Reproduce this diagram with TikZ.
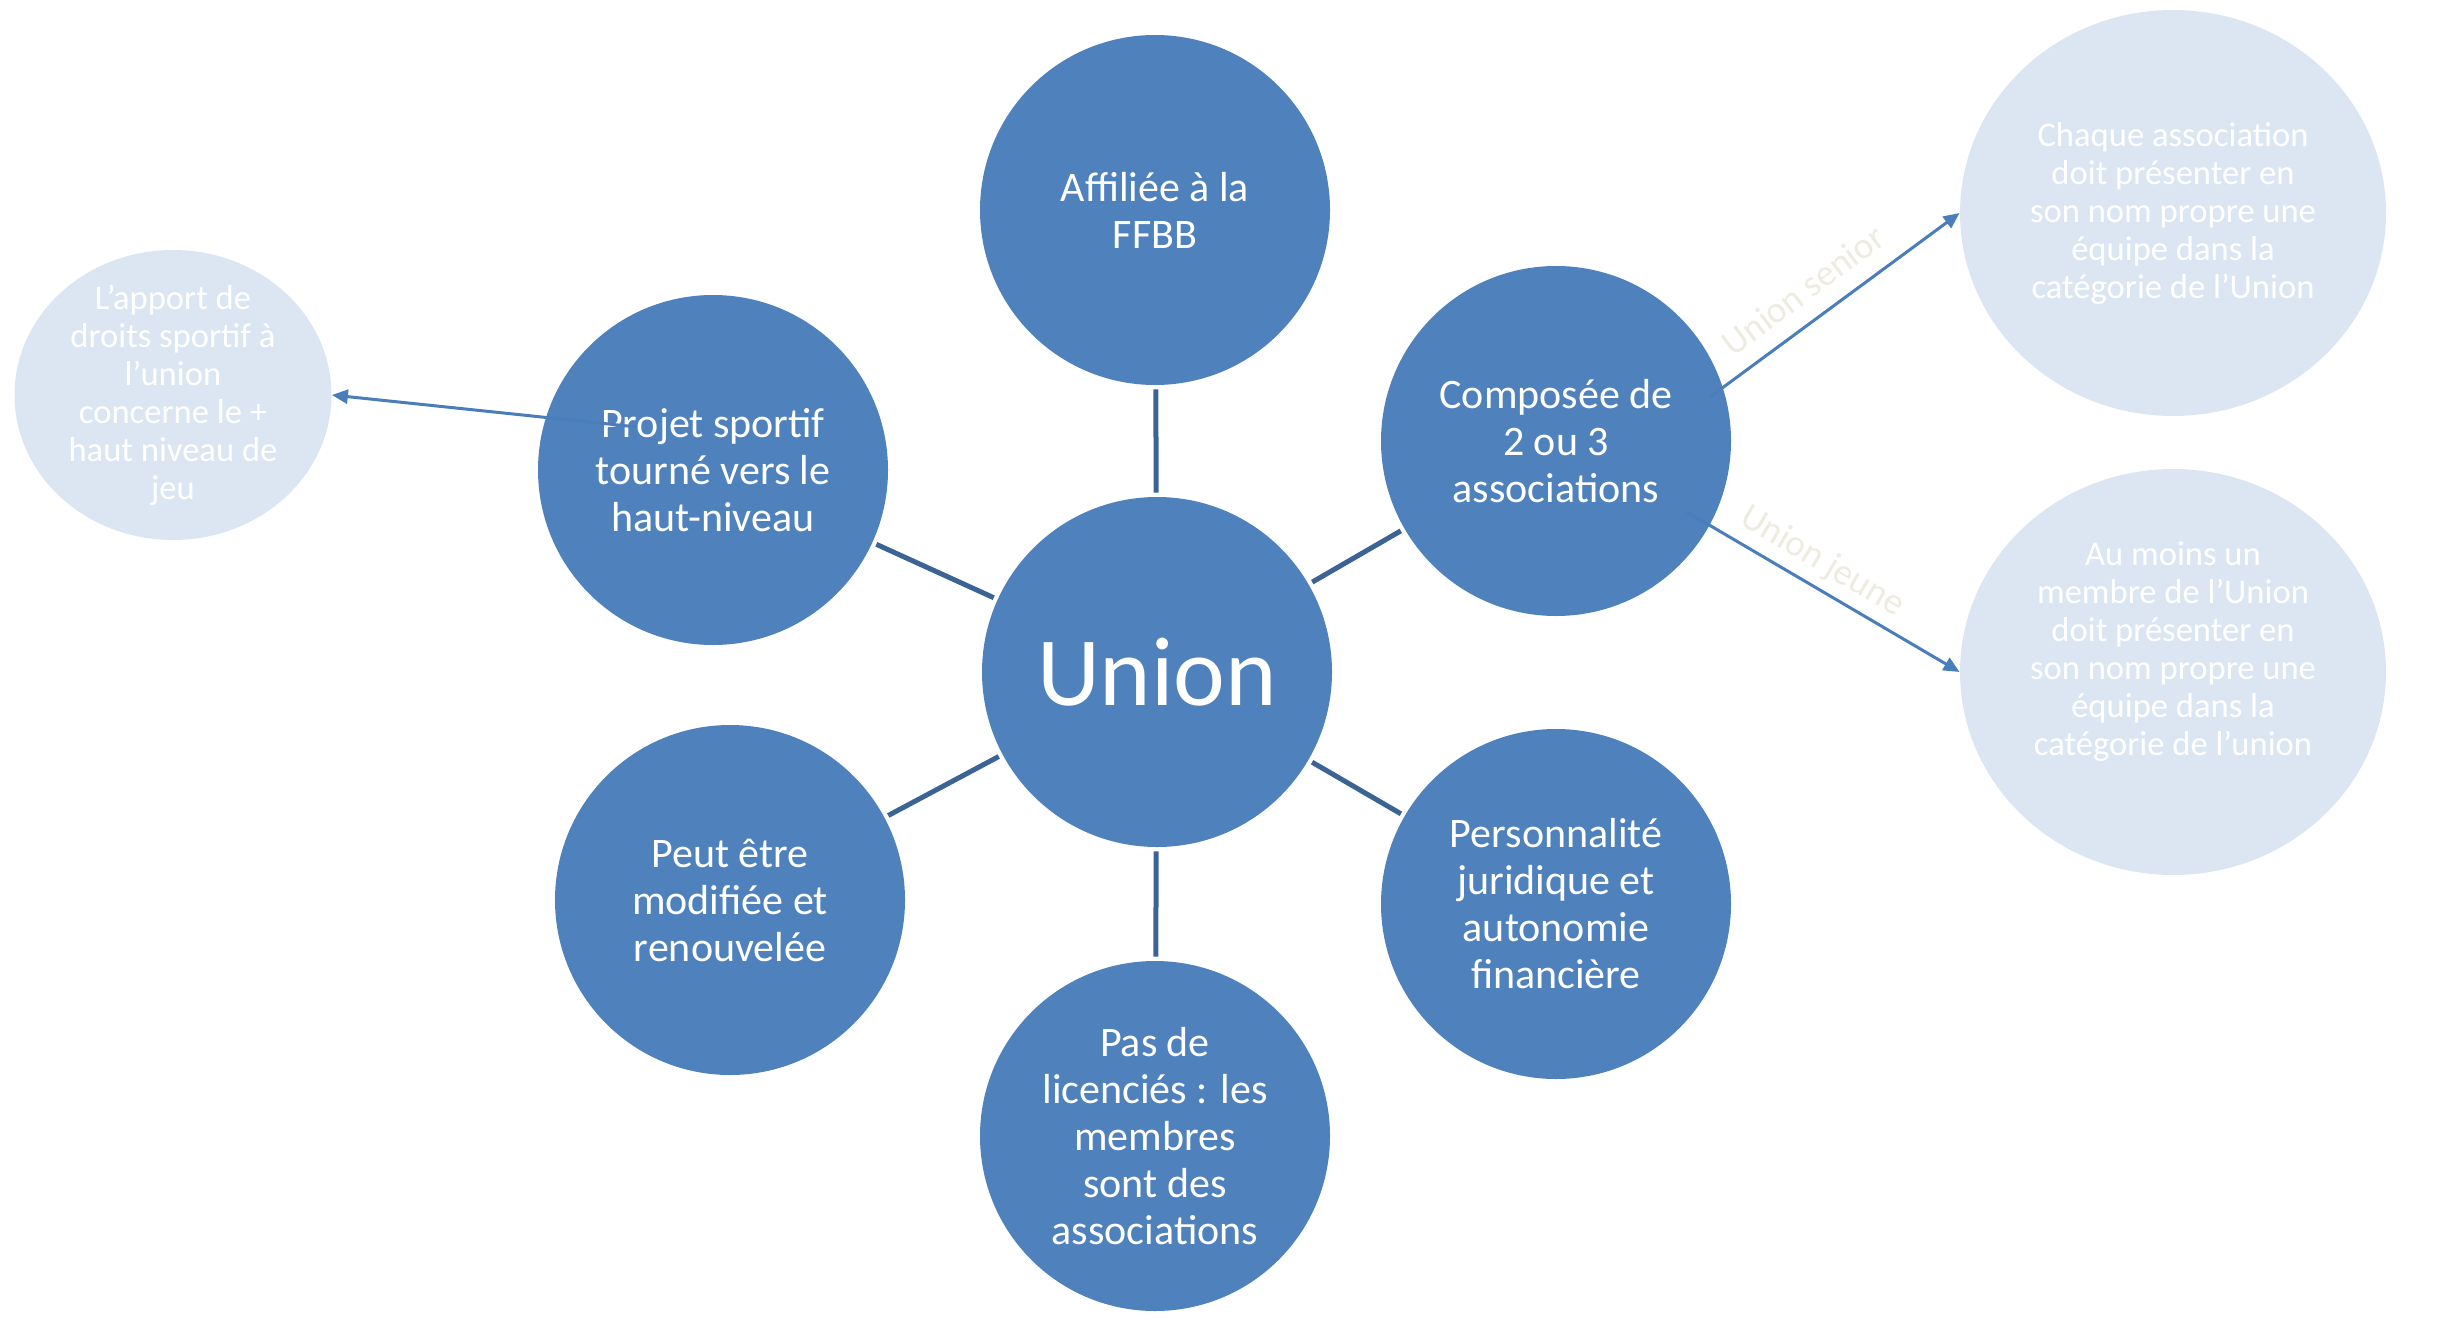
\documentclass[tikz,border=0pt]{standalone}
\usepackage{fontspec}
\setmainfont{Carlito}
\usetikzlibrary{shapes.geometric,arrows.meta}
\definecolor{darkfill}{HTML}{4F81BD}
\definecolor{spoke}{HTML}{3B6394}
\definecolor{lightfill}{HTML}{DCE6F2}
\definecolor{arrowc}{HTML}{4A7EBB}
\definecolor{labelc}{HTML}{EEECE1}
\begin{document}
\begin{tikzpicture}[x=0.5pt,y=-0.5pt,
 bigc/.style={circle,fill=darkfill,minimum size=175pt,inner sep=0pt,text=white,align=center,font=\fontsize{21}{23.5}\selectfont},
 lightc/.style={ellipse,fill=lightfill,inner sep=0pt},
 lighttext/.style={text=white,align=center,font=\fontsize{17.3}{19}\selectfont},
 spokeline/.style={draw=spoke,line width=2.5pt,shorten <=2pt,shorten >=2pt},
 arr/.style={draw=arrowc,line width=1.5pt,-{Triangle[length=8pt,width=7pt]}},
 lbl/.style={text=labelc,font=\fontsize{18.5}{21}\selectfont}]
\useasboundingbox (0,0) rectangle (2445,1322);

\node[bigc] (union) at (1157,672) {\fontsize{49}{58}\selectfont Union};
\node[bigc] (aff) at (1155,210) {Affiliée à la\\FFBB};
\node[bigc] (comp) at (1556,441) {Composée de\\2 ou 3\\associations};
\node[bigc] (pers) at (1556,904) {Personnalité\\juridique et\\autonomie\\financière};
\node[bigc] (pas) at (1155,1136) {Pas de\\licenciés : les\\membres\\sont des\\associations};
\node[bigc] (peut) at (730,900) {Peut être\\modifiée et\\renouvelée};
\node[bigc] (proj) at (713,470) {Projet sportif\\tourné vers le\\haut-niveau};

\node[lightc,minimum width=158.5pt,minimum height=145pt] (apport) at (173,395) {};
\node[lighttext] (apportt) at (173,395) {L’apport de\\droits sportif à\\l’union\\concerne le +\\haut niveau de\\jeu};
\node[lightc,minimum width=213pt,minimum height=203pt] (senior) at (2173,213) {};
\node[lighttext] (seniort) at (2173,213) {Chaque association\\doit présenter en\\son nom propre une\\équipe dans la\\catégorie de l’Union};
\node[lightc,minimum width=213pt,minimum height=203pt] (jeune) at (2173,672) {};
\node[lighttext] (jeunet) at (2173,652) {Au moins un\\membre de l’Union\\doit présenter en\\son nom propre une\\équipe dans la\\catégorie de l’union};

\draw[spokeline] (union) -- (aff);
\draw[spokeline] (union) -- (comp);
\draw[spokeline] (union) -- (pers);
\draw[spokeline] (union) -- (pas);
\draw[spokeline] (union) -- (peut);
\draw[spokeline] (union) -- (proj);

\coordinate (pstart) at (637,427);
\coordinate (cs1) at (1710,397);
\coordinate (cs2) at (1687,512);
\draw[arr] (pstart) -- (apport.east);
\draw[arr] (cs1) -- (senior.west);
\draw[arr] (cs2) -- (jeune.west);

\node[lbl,rotate=36.7] (lsen) at (1803,290) {Union senior};
\node[lbl,rotate=-30.6] (ljeu) at (1822,562) {Union jeune};
\end{tikzpicture}
\end{document}
